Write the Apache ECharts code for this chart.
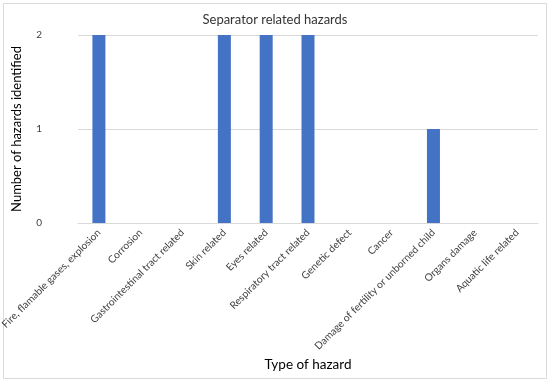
<!DOCTYPE html>
<html><head><meta charset="utf-8">
<script src="https://cdn.jsdelivr.net/npm/echarts@6/dist/echarts.min.js"></script>
<style>html,body{margin:0;padding:0;background:#fff}#c{width:550px;height:383px}</style>
</head><body><div id="c"></div>
<script>
const categories = ["Fire, flamable gases, explosion","Corrosion","Gastrointestinal tract related","Skin related","Eyes related","Respiratory tract related","Genetic defect","Cancer","Damage of fertility or unborned child","Organs damage","Aquatic life related"];
const values = [2,0,0,2,2,2,0,0,1,0,0];
const chart = echarts.init(document.getElementById('c'));
const font = "Lato, 'Open Sans', sans-serif";
chart.setOption({
  animation:false,
  graphic:[{type:'rect',shape:{x:3.5,y:3.5,width:543,height:375},style:{fill:'none',stroke:'#d9d9d9',lineWidth:1}}],
  title:{text:'Separator related hazards',left:'center',top:8,textStyle:{fontFamily:font,fontSize:13,fontWeight:'normal',color:'#333333'}},
  grid:{left:78,right:12,top:35,bottom:160,outerBoundsMode:'none'},
  xAxis:{type:'category',data:categories,name:'Type of hazard',nameLocation:'middle',nameGap:135,
    nameTextStyle:{fontFamily:font,fontSize:13.5,color:'#000'},
    axisLine:{lineStyle:{color:'#d9d9d9'}},axisTick:{show:false},
    axisLabel:{rotate:45,interval:0,hideOverlap:false,fontFamily:font,fontSize:10.2,color:'#404040',margin:8}},
  yAxis:{type:'value',min:0,max:2,interval:1,name:'Number of hazards identified',nameLocation:'middle',nameGap:55,
    nameTextStyle:{fontFamily:font,fontSize:13,color:'#000'},
    axisLine:{show:false},axisTick:{show:false},
    axisLabel:{fontFamily:font,fontSize:10,color:'#404040',margin:36},
    splitLine:{lineStyle:{color:'#d9d9d9'}}},
  series:[{type:'bar',data:values,barWidth:13,itemStyle:{color:'#4472c4'}}]
});
</script></body></html>
